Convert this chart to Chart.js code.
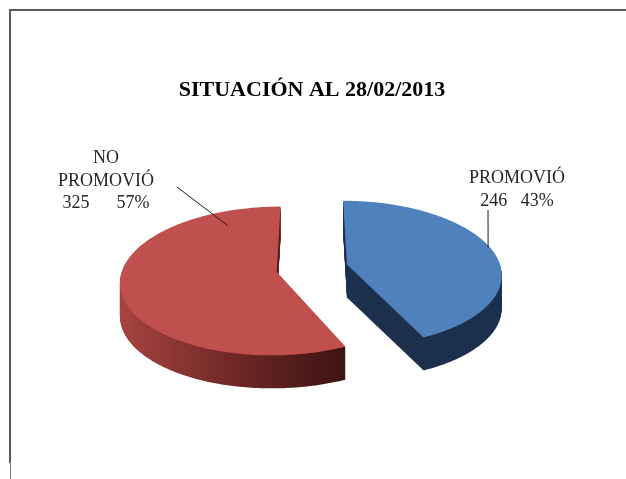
<!DOCTYPE html>
<html>
<head>
<meta charset="utf-8">
<script src="https://cdn.jsdelivr.net/npm/chart.js@4.4.1/dist/chart.umd.min.js"></script>
<style>
  body { margin: 0; background: #fff; }
  #wrap { position: relative; width: 626px; height: 479px; }
  canvas { position: absolute; left: 0; top: 0; }
  /* old worksheet frame */
  #frame { position: absolute; left: 9px; top: 9px; width: 617px; height: 452px;
           border-top: 2px solid #5a5a5a; border-left: 2px solid #5a5a5a; }
  #tail { position: absolute; left: 10px; top: 461px; width: 1px; height: 18px; background: #7a7a7a; }
</style>
</head>
<body>
<div id="wrap">
  <canvas id="pieChart" width="626" height="479"></canvas>
  <div id="frame"></div>
  <div id="tail"></div>
</div>
<script>
// data
const categories = ['PROMOVIÓ', ['NO', 'PROMOVIÓ']];
const alumnos = [246, 325];

// styles
const topColors = ['#4f81bd', '#c0504d'];
const sideColors = [['#21385a', '#1d314f', '#1c2f4c'], ['#a5423f', '#6e2725', '#3c1312']];

const TILT = 0.47;     // vertical squash of the pie
const PERSP = 0.00079; // perspective strength (near half looks bigger)
const DEPTH = 33;      // thickness of the 3d side
const EXPLODE = 36;    // how far each slice is pulled out

// project a point of the pie plane (relative to the pie centre) to the screen
function project(arc, X, Y, dz) {
  const f = 1 / (1 - PERSP * Y);
  return [arc.x + X * f, arc.y + Y * TILT * f + dz];
}

function slicePath(ctx, arc, dz) {
  const mid = (arc.startAngle + arc.endAngle) / 2;
  const ox = Math.cos(mid) * EXPLODE, oy = Math.sin(mid) * EXPLODE;
  const R = arc.outerRadius;
  const steps = Math.max(8, Math.ceil((arc.endAngle - arc.startAngle) * 60));
  ctx.beginPath();
  let p = project(arc, ox, oy, dz);
  ctx.moveTo(p[0], p[1]);
  for (let s = 0; s <= steps; s++) {
    const t = arc.startAngle + (arc.endAngle - arc.startAngle) * s / steps;
    p = project(arc, ox + Math.cos(t) * R, oy + Math.sin(t) * R, dz);
    ctx.lineTo(p[0], p[1]);
  }
  ctx.closePath();
}

const pie3d = {
  id: 'pie3d',
  beforeDatasetDraw(chart, args) {
    const ctx = chart.ctx;
    const arcs = args.meta.data;
    // sides
    arcs.forEach((arc, i) => {
      const R = arc.outerRadius;
      const mid = (arc.startAngle + arc.endAngle) / 2;
      const apx = arc.x + Math.cos(mid) * EXPLODE;
      const g = ctx.createLinearGradient(apx - R, 0, apx + R * 0.45, 0);
      g.addColorStop(0, sideColors[i][0]);
      g.addColorStop(0.5, sideColors[i][1]);
      g.addColorStop(1, sideColors[i][2]);
      for (let d = DEPTH; d > 0; d--) {
        ctx.save();
        slicePath(ctx, arc, d);
        ctx.fillStyle = g;
        ctx.fill();
        ctx.restore();
      }
    });
    // top faces
    arcs.forEach(arc => {
      ctx.save();
      slicePath(ctx, arc, 0);
      ctx.fillStyle = arc.options.backgroundColor;
      ctx.fill();
      ctx.restore();
    });
    return false;
  }
};

// label boxes + where the leader line touches the slice
const labelSpots = [
  { tx: 517, ty: 183, lx: 488, ly: 210, frac: 0.487, rf: 0.988, gap: '   ' },
  { tx: 106, ty: 163, lx: 177, ly: 187, frac: 0.864, rf: 0.78, gap: '      ' }
];

const pieLabels = {
  id: 'pieLabels',
  afterDraw(chart) {
    const ctx = chart.ctx;
    const arcs = chart.getDatasetMeta(0).data;
    const vals = chart.data.datasets[0].data;
    const total = vals.reduce((s, v) => s + v, 0);
    arcs.forEach((arc, i) => {
      const s = labelSpots[i];
      const mid = (arc.startAngle + arc.endAngle) / 2;
      const ang = arc.startAngle + s.frac * (arc.endAngle - arc.startAngle);
      const X = Math.cos(mid) * EXPLODE + Math.cos(ang) * arc.outerRadius * s.rf;
      const Y = Math.sin(mid) * EXPLODE + Math.sin(ang) * arc.outerRadius * s.rf;
      const a = project(arc, X, Y, 0);

      ctx.save();
      ctx.strokeStyle = '#1a1a1a';
      ctx.lineWidth = 1;
      ctx.beginPath();
      ctx.moveTo(s.lx, s.ly);
      ctx.lineTo(a[0], a[1]);
      ctx.stroke();

      const cat = chart.data.labels[i];
      const lines = (Array.isArray(cat) ? cat : [cat]).slice();
      const pct = Math.round(vals[i] / total * 100);
      lines.push(vals[i] + s.gap + pct + '%');
      ctx.fillStyle = '#262626';
      ctx.font = "18px 'Liberation Serif', 'Times New Roman', serif";
      ctx.textAlign = 'center';
      ctx.textBaseline = 'alphabetic';
      lines.forEach((t, k) => ctx.fillText(t, s.tx, s.ty + k * 22.5));
      ctx.restore();
    });
  }
};

var pieChartCanvas = document.getElementById('pieChart').getContext('2d');
var pieChart = new Chart(pieChartCanvas, {
  type: 'pie',
  data: {
    labels: categories,
    datasets: [{
      data: alumnos,
      backgroundColor: topColors,
      borderWidth: 0,
      hoverOffset: 0,
      offset: 0
    }]
  },
  options: {
    responsive: false,
    animation: false,
    radius: 154,
    layout: { padding: { left: 0, right: 2, top: 0, bottom: 56 } },
    plugins: {
      legend: { display: false },
      tooltip: { enabled: false },
      title: {
        display: true,
        text: 'SITUACIÓN AL 28/02/2013',
        color: '#000',
        font: { family: "'Liberation Serif', 'Times New Roman', serif", size: 22, weight: 'bold' },
        padding: { top: 77, bottom: 10 }
      }
    }
  },
  plugins: [pie3d, pieLabels]
});
</script>
</body>
</html>
